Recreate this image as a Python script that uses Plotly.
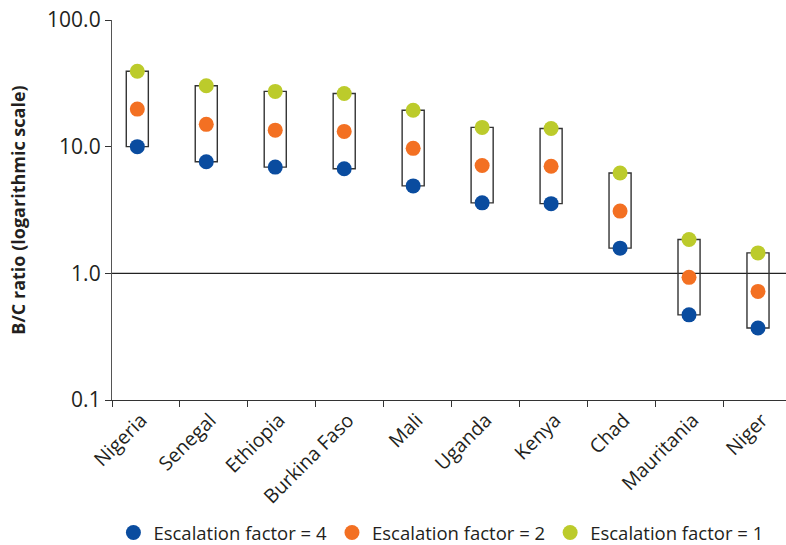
"""
Benefit/cost ratios by country under three escalation factors,
plotted on a log scale with a box spanning the range per country.
"""

import plotly.graph_objects as go

countries = [
    "Nigeria", "Senegal", "Ethiopia", "Burkina Faso", "Mali",
    "Uganda", "Kenya", "Chad", "Mauritania", "Niger",
]
ef4 = [10.0, 7.6, 6.9, 6.7, 4.9, 3.6, 3.55, 1.58, 0.47, 0.37]
ef2 = [19.8, 15.0, 13.5, 13.2, 9.7, 7.1, 7.0, 3.1, 0.93, 0.72]
ef1 = [39.4, 30.3, 27.3, 26.3, 19.4, 14.2, 13.9, 6.2, 1.85, 1.45]

y_tickvals = [0.1, 1, 10, 100]
y_ticktext = ["0.1", "1.0", "10.0", "100.0"]

BLUE = "#0a4c9f"
ORANGE = "#f37022"
GREEN = "#bccb2b"
FONT = "Open Sans"

x = list(range(len(countries)))
lo = [min(v) for v in zip(ef4, ef2, ef1)]
hi = [max(v) for v in zip(ef4, ef2, ef1)]

fig = go.Figure()

# --- range boxes (outline only) ---
fig.add_trace(
    go.Bar(
        x=x,
        base=lo,
        y=[h - l for h, l in zip(hi, lo)],
        width=0.32,
        marker=dict(color="rgba(0,0,0,0)", line=dict(color="#333333", width=1.4)),
        showlegend=False,
        hoverinfo="skip",
    )
)

# --- dots for each escalation factor ---
for name, vals, col in [
    ("Escalation factor = 4", ef4, BLUE),
    ("Escalation factor = 2", ef2, ORANGE),
    ("Escalation factor = 1", ef1, GREEN),
]:
    fig.add_trace(
        go.Scatter(
            x=x,
            y=vals,
            mode="markers",
            name=name,
            marker=dict(size=15, color=col),
        )
    )

# break-even line
fig.add_hline(y=1, line=dict(color="#222222", width=1.3), layer="below")

# category boundary ticks (slightly offset from the category centres in the source)
boundary_ticks = [i * 0.9855 - 0.367 for i in range(len(countries))]

fig.update_layout(
    width=786,
    height=545,
    margin=dict(l=112, r=0, t=20, b=145, autoexpand=False),
    plot_bgcolor="white",
    paper_bgcolor="white",
    font=dict(family=FONT, color="#231f20"),
    barmode="overlay",
    legend=dict(
        orientation="h",
        x=0.488,
        xanchor="center",
        yref="container",
        y=0.022,
        yanchor="middle",
        bgcolor="rgba(0,0,0,0)",
        font=dict(size=18.5, family=FONT),
        itemsizing="trace",
    ),
)

fig.update_xaxes(
    range=[-0.367, 9.406],
    tickmode="array",
    tickvals=x,
    ticktext=countries,
    tickangle=-45,
    ticks="",
    tickfont=dict(size=19.5),
    ticklabelshift=4,
    automargin=False,
    showline=True,
    linecolor="#333333",
    linewidth=1.3,
    showgrid=False,
    zeroline=False,
    minor=dict(
        tickmode="array",
        tickvals=boundary_ticks,
        ticks="outside",
        ticklen=6,
        tickcolor="#333333",
        tickwidth=1.3,
        showgrid=False,
    ),
)

fig.update_yaxes(
    type="log",
    range=[-1, 2],
    tickmode="array",
    tickvals=y_tickvals,
    ticktext=y_ticktext,
    ticks="outside",
    ticklen=6,
    tickcolor="#333333",
    tickwidth=1.3,
    tickfont=dict(size=21),
    automargin=False,
    showline=True,
    linecolor="#555555",
    linewidth=1.3,
    showgrid=False,
    zeroline=False,
    title=dict(
        text="<b>B/C ratio (logarithmic scale)</b>",
        font=dict(size=18),
        standoff=16,
    ),
)

# the page's default body margin would shift the figure by 8px
fig.write_html(
    "out.html",
    config={"displayModeBar": False},
    post_script="document.body.style.margin='0';",
)
